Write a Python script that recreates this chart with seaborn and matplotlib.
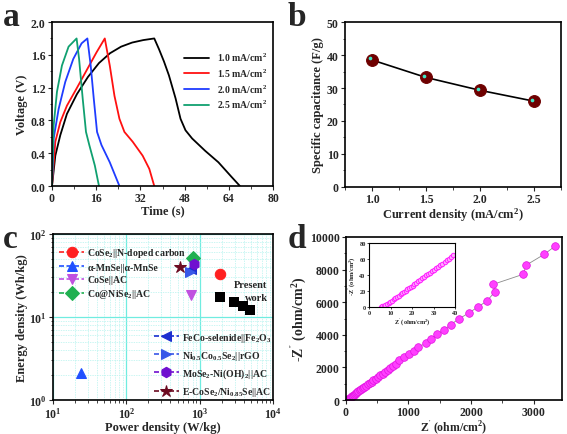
import pandas as pd
import seaborn as sns
import matplotlib.pyplot as plt
from matplotlib.ticker import MultipleLocator, LogLocator, NullFormatter
from matplotlib.transforms import offset_copy

# (a) charge/discharge curves: time (s), voltage (V)
t_10 = [0, 1.2, 3, 5.4, 9, 13, 17, 21, 25, 29, 33, 37, 38.7, 40.5, 42.3, 44.7, 46.5, 48.3, 50.7, 55.4, 60.2, 65, 68]
v_10 = [0, 0.37, 0.62, 0.88, 1.12, 1.33, 1.5, 1.62, 1.7, 1.75, 1.78, 1.8, 1.67, 1.52, 1.35, 1.07, 0.82, 0.68, 0.58, 0.43, 0.29, 0.11, 0]
t_15 = [0, 1.2, 3, 5.4, 8.9, 12.5, 16.1, 19.1, 20.9, 22.6, 24.4, 26.2, 29.2, 32.8, 35.2, 37]
v_15 = [0, 0.54, 0.78, 0.98, 1.19, 1.41, 1.63, 1.8, 1.47, 1.1, 0.82, 0.66, 0.54, 0.37, 0.21, 0]
t_20 = [0, 0.6, 2.4, 4.8, 7.7, 10.7, 12.8, 14, 15.1, 16.3, 17.9, 20.9, 24.4]
v_20 = [0, 0.58, 0.94, 1.27, 1.55, 1.74, 1.8, 1.47, 1.07, 0.66, 0.5, 0.29, 0]
t_25 = [0, 0.6, 1.8, 3.6, 6, 8.9, 9.8, 11.1, 12.3, 13.5, 15.5, 17]
v_25 = [0, 0.74, 1.15, 1.47, 1.7, 1.8, 1.55, 1.07, 0.66, 0.5, 0.25, 0]
gcd_labels = ['1.0 mA/cm$^2$', '1.5 mA/cm$^2$', '2.0 mA/cm$^2$', '2.5 mA/cm$^2$']
gcd_colors = ['black', '#ff1010', '#1f3cff', '#10a070']

# (b) specific capacitance
current = [1.0, 1.5, 2.0, 2.5]
capacitance = [38.5, 33.2, 29.3, 26.0]

# (c) Ragone plot: power (W/kg), energy (Wh/kg)
lit_labels = ['CoSe$_2$||N-doped carbon', '\u03b1-MnSe||\u03b1-MnSe', 'CoSe||AC', 'Co@NiSe$_2$||AC',
              'FeCo-selenide||Fe$_2$O$_3$', 'Ni$_{0.5}$Co$_{0.5}$Se$_2$||rGO',
              'MoSe$_2$-Ni(OH)$_2$||AC', 'E-CoSe$_2$/Ni$_{0.85}$Se||AC']
lit_power = [1900, 24, 760, 800, 770, 745, 825, 545]
lit_energy = [32.5, 2.1, 18.4, 51, 38, 35, 43, 40.5]
lit_markers = ['o', '^', 'v', 'D', '<', '>', 'h', '*']
lit_colors = ['#ff2020', '#2050ff', '#c050e0', '#20b050', '#1a2fd0', '#3858e8', '#7010d0', '#6b0a20']
work_power = [1900, 2950, 3900, 4800]
work_energy = [17.5, 15.2, 13.5, 12.0]

# (d) Nyquist plot
z_re = [20, 35, 50, 65, 80, 95, 110, 125, 140, 160, 180, 200, 220, 245, 270, 295, 320, 350, 380, 410,
        440, 475, 510, 545, 585, 625, 665, 710, 755, 800, 852, 926, 1011, 1095, 1159, 1275, 1354, 1455,
        1571, 1672, 1810, 1963, 2106, 2254, 2381, 2354, 2831, 2884, 3169, 3344]
z_im = [10, 40, 80, 130, 180, 230, 280, 330, 380, 430, 490, 545, 600, 670, 740, 810, 885, 965, 1045, 1130,
        1215, 1310, 1410, 1510, 1620, 1735, 1850, 1975, 2100, 2240, 2454, 2638, 2802, 3006, 3252, 3476,
        3763, 4029, 4315, 4622, 4990, 5337, 5705, 6074, 6646, 7096, 7710, 8282, 8937, 9448]
zi_re = [5.5, 6.2, 6.9, 7.6, 8.3, 9.0, 9.8, 10.6, 11.4, 12.2, 13.0, 13.8, 14.6, 15.4, 16.2, 17.0, 17.8,
         18.6, 19.4, 20.2, 21.0, 21.9, 22.8, 23.7, 24.6, 25.5, 26.4, 27.3, 28.2, 29.1, 30.0, 31.0, 32.0,
         33.0, 34.0, 35.0, 36.0, 37.0, 38.0, 38.9]
zi_im = [0, 0.8, 1.7, 2.8, 4.0, 5.3, 6.7, 8.1, 9.6, 11.1, 12.6, 14.1, 15.7, 17.3, 18.9, 20.4, 22.0,
         23.6, 25.2, 26.8, 28.4, 30.2, 32.0, 33.8, 35.7, 37.6, 39.5, 41.4, 43.1, 44.9, 46.6, 48.4, 50.3,
         52.2, 54.2, 56.3, 58.4, 60.3, 62.4, 64.8]

sns.set_style('ticks')
plt.rcParams['font.family'] = ['Liberation Serif', 'DejaVu Serif']
plt.rcParams['font.weight'] = 'bold'
plt.rcParams['axes.labelweight'] = 'bold'
plt.rcParams['mathtext.default'] = 'regular'
plt.rcParams['axes.linewidth'] = 1.2
plt.rcParams['xtick.direction'] = 'out'
plt.rcParams['ytick.direction'] = 'out'
plt.rcParams['xtick.major.size'] = 3
plt.rcParams['ytick.major.size'] = 3
plt.rcParams['xtick.minor.size'] = 1.8
plt.rcParams['ytick.minor.size'] = 1.8
plt.rcParams['xtick.major.pad'] = 1.5
plt.rcParams['ytick.major.pad'] = 1.5
plt.rcParams['xtick.minor.visible'] = True
plt.rcParams['ytick.minor.visible'] = True
plt.rcParams['xtick.labelsize'] = 8.5
plt.rcParams['ytick.labelsize'] = 8.5
plt.rcParams['axes.labelsize'] = 9
plt.rcParams['axes.edgecolor'] = 'black'

fig = plt.figure(figsize=(5.67, 4.35), dpi=100)
ax_a = fig.add_axes([0.0917, 0.570, 0.390, 0.377])
ax_b = fig.add_axes([0.6085, 0.568, 0.381, 0.379])
ax_c = fig.add_axes([0.0935, 0.078, 0.388, 0.382])
ax_d = fig.add_axes([0.610, 0.078, 0.381, 0.375])

# ---- (a)
gcd = pd.concat([
    pd.DataFrame({'t': t, 'v': v, 'series': lab})
    for t, v, lab in zip([t_10, t_15, t_20, t_25], [v_10, v_15, v_20, v_25], gcd_labels)
])
sns.lineplot(data=gcd, x='t', y='v', hue='series', palette=gcd_colors, sort=False,
             estimator=None, lw=1.3, ax=ax_a)
ax_a.set_xlim(0, 80)
ax_a.set_ylim(0, 2.0)
ax_a.xaxis.set_major_locator(MultipleLocator(16))
ax_a.xaxis.set_minor_locator(MultipleLocator(8))
ax_a.yaxis.set_major_locator(MultipleLocator(0.4))
ax_a.yaxis.set_minor_locator(MultipleLocator(0.2))
ax_a.yaxis.set_major_formatter(plt.FormatStrFormatter('%.1f'))
ax_a.set_xlabel('Time (s)', labelpad=0)
ax_a.set_ylabel('Voltage (V)', labelpad=2)
ax_a.legend(loc='upper left', bbox_to_anchor=(0.58, 0.85), frameon=False, fontsize=7,
            handlelength=2.6, labelspacing=0.35, borderaxespad=0, title=None)

# ---- (b)
sns.lineplot(x=current, y=capacitance, color='black', lw=1.2, marker='o', ms=8.5,
             mfc='#6e0000', mec='#6e0000', ax=ax_b)
hl = offset_copy(ax_b.transData, fig=fig, x=-1.2, y=1.2, units='points')
sns.scatterplot(x=current, y=capacitance, color='#40e8c8', s=7, linewidth=0, transform=hl,
                zorder=5, ax=ax_b)
ax_b.set_xlim(0.75, 2.75)
ax_b.set_ylim(0, 50)
ax_b.xaxis.set_major_locator(MultipleLocator(0.5))
ax_b.xaxis.set_minor_locator(MultipleLocator(0.25))
ax_b.yaxis.set_major_locator(MultipleLocator(10))
ax_b.yaxis.set_minor_locator(MultipleLocator(5))
ax_b.set_xlabel('Current density (mA/cm$^2$)', labelpad=0)
ax_b.set_ylabel('Specific capacitance (F/g)', labelpad=2)

# ---- (c)
ax_c.set_xscale('log')
ax_c.set_yscale('log')
for p, e, m, c, lab in zip(lit_power, lit_energy, lit_markers, lit_colors, lit_labels):
    ms = 9 if m == '*' else 7.5
    sns.lineplot(x=[p], y=[e], marker=m, color=c, mfc=c, mec=c, ms=ms, ls=(0, (3, 1.5)),
                 lw=1.2, label=lab, ax=ax_c)
sns.scatterplot(x=work_power, y=work_energy, marker='s', color='black', s=45, linewidth=0,
                ax=ax_c)
ax_c.text(5000, 24.5, 'Present', fontsize=7.5, ha='center', va='center')
ax_c.text(6000, 17.3, 'work', fontsize=7.5, ha='center', va='center')
ax_c.set_xlim(10, 1e4)
ax_c.set_ylim(1, 100)
ax_c.xaxis.set_minor_locator(LogLocator(base=10, subs=range(2, 10)))
ax_c.yaxis.set_minor_locator(LogLocator(base=10, subs=range(2, 10)))
ax_c.xaxis.set_minor_formatter(NullFormatter())
ax_c.yaxis.set_minor_formatter(NullFormatter())
ax_c.grid(True, which='major', color='#70ece0', lw=0.9)
ax_c.grid(True, which='minor', color='#b5f3ee', lw=0.5, ls=(0, (2, 1.5)))
ax_c.set_axisbelow(True)
ax_c.set_xlabel('Power density (W/kg)', labelpad=0)
ax_c.set_ylabel('Energy density (Wh/kg)', labelpad=1)
handles, labels = ax_c.get_legend_handles_labels()
leg1 = ax_c.legend(handles[:4], labels[:4], loc='upper left', bbox_to_anchor=(0.01, 0.95),
                   frameon=False, fontsize=7, handlelength=2.6, labelspacing=0.35,
                   borderaxespad=0, handletextpad=0.3)
ax_c.add_artist(leg1)
ax_c.legend(handles[4:], labels[4:], loc='upper left', bbox_to_anchor=(0.44, 0.44),
            frameon=False, fontsize=7, handlelength=2.6, labelspacing=0.5,
            borderaxespad=0, handletextpad=0.3)

# ---- (d)
sns.lineplot(x=z_re, y=z_im, sort=False, estimator=None, color='#8a8a8a', lw=0.6,
             marker='o', ms=5.5, mfc='#ff40ff', mec='#e010e0', mew=0.5, ax=ax_d)
ax_d.set_xlim(0, 3450)
ax_d.set_ylim(0, 10000)
ax_d.xaxis.set_major_locator(MultipleLocator(1000))
ax_d.xaxis.set_minor_locator(MultipleLocator(500))
ax_d.yaxis.set_major_locator(MultipleLocator(2000))
ax_d.yaxis.set_minor_locator(MultipleLocator(1000))
ax_d.set_xlabel("Z$^{'}$ (ohm/cm$^2$)", labelpad=-0.5, fontsize=8.5)
ax_d.set_ylabel("-Z$^{''}$ (ohm/cm$^2$)", labelpad=1, fontsize=10)

ax_i = fig.add_axes([0.651, 0.292, 0.152, 0.147])
sns.lineplot(x=zi_re, y=zi_im, sort=False, estimator=None, lw=0, marker='o', ms=3.2,
             mfc='#ffa8ff', mec='#ff20ff', mew=0.7, ax=ax_i)
ax_i.set_xlim(0, 40)
ax_i.set_ylim(0, 80)
ax_i.xaxis.set_major_locator(MultipleLocator(10))
ax_i.yaxis.set_major_locator(MultipleLocator(20))
ax_i.minorticks_off()
ax_i.tick_params(labelsize=4.5, length=1.5, width=0.6, pad=1)
for s in ax_i.spines.values():
    s.set_linewidth(0.8)
ax_i.set_xlabel("Z$^{'}$ (ohm/cm$^2$)", fontsize=4.5, labelpad=0)
ax_i.set_ylabel("-Z$^{''}$ (ohm/cm$^2$)", fontsize=4.5, labelpad=0)

# panel letters
for lab, x, y in [('a', 0.005, 0.995), ('b', 0.508, 0.995), ('c', 0.005, 0.485), ('d', 0.508, 0.485)]:
    fig.text(x, y, lab, fontsize=24, fontweight='bold', ha='left', va='top')

fig.savefig('out.png', dpi=100)
